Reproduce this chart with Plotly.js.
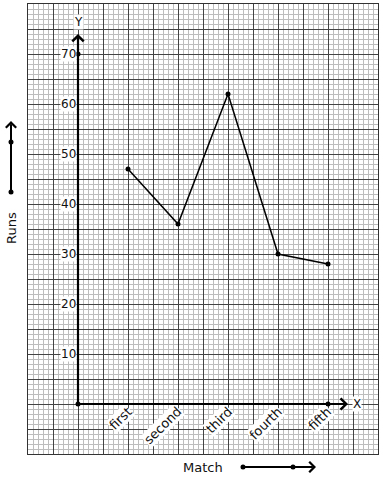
<!DOCTYPE html>
<html>
<head>
<meta charset="utf-8">
<script src="https://cdn.plot.ly/plotly-3.0.1.min.js"></script>
<style>html,body{margin:0;padding:0;background:#fff;}#chart{width:383px;height:480px;}</style>
</head>
<body>
<div id="chart"></div>
<script>
// Data
const categories = ["first", "second", "third", "fourth", "fifth"];
const runs = [47, 36, 62, 30, 28];
const yTickValues = [10, 20, 30, 40, 50, 60, 70];
const yTickLabels = ["10", "20", "30", "40", "50", "60", "70"];
const xTitle = "Match";
const yTitle = "Runs";

const xIdx = categories.map((c, i) => i + 1);
const font = "DejaVu Sans, sans-serif";
const ink = "#000";
const txt = "#111";

const traces = [
  {
    x: xIdx, y: runs, type: "scatter", mode: "lines+markers",
    line: {color: ink, width: 1.5},
    marker: {color: ink, size: 5},
    hoverinfo: "skip", showlegend: false, cliponaxis: false
  },
  {
    x: [0, 0, categories.length],
    y: [0, yTickValues[yTickValues.length - 1], 0],
    type: "scatter", mode: "markers",
    marker: {color: ink, size: 5},
    hoverinfo: "skip", showlegend: false, cliponaxis: false
  }
];

const annotations = [];
// y tick labels
yTickValues.forEach((v, i) => {
  annotations.push({
    x: 0, y: v, xref: "x", yref: "y", text: yTickLabels[i],
    showarrow: false, xanchor: "right", yanchor: "middle", xshift: -1,
    bgcolor: "#fff", borderpad: 0,
    font: {family: font, size: 12, color: txt}
  });
});
// x category labels
categories.forEach((c, i) => {
  annotations.push({
    x: xIdx[i], y: 0, xref: "x", yref: "y", text: c,
    showarrow: false, xanchor: "right", yanchor: "top", textangle: -45,
    xshift: 8, yshift: 1,
    bgcolor: "#fff", borderpad: 0,
    font: {family: font, size: 13, color: txt}
  });
});
// axis arrows
annotations.push({
  x: 0, y: 74, ax: 0, ay: 0, xref: "x", yref: "y", axref: "x", ayref: "y",
  showarrow: true, arrowhead: 4, arrowsize: 1, arrowwidth: 2.2, arrowcolor: ink, text: ""
});
annotations.push({
  x: 5.4, y: 0, ax: 0, ay: 0, xref: "x", yref: "y", axref: "x", ayref: "y",
  showarrow: true, arrowhead: 4, arrowsize: 1, arrowwidth: 2.2, arrowcolor: ink, text: ""
});
annotations.push({
  x: 0, y: 76.5, xref: "x", yref: "y", text: "Y", showarrow: false,
  xanchor: "center", yanchor: "middle",
  bgcolor: "#fff", borderpad: 0, font: {family: font, size: 12, color: txt}
});
annotations.push({
  x: 5.58, y: 0, xref: "x", yref: "y", text: "X", showarrow: false,
  xanchor: "center", yanchor: "middle",
  bgcolor: "#fff", borderpad: 0, font: {family: font, size: 12, color: txt}
});
// titles
annotations.push({
  x: (203 - 28) / 350, y: (454 - 467) / 450, xref: "paper", yref: "paper",
  xanchor: "center", yanchor: "middle",
  text: xTitle, showarrow: false, font: {family: font, size: 13, color: txt}
});
annotations.push({
  x: (11 - 28) / 350, y: (454 - 228) / 450, xref: "paper", yref: "paper",
  xanchor: "center", yanchor: "middle",
  text: yTitle, showarrow: false, textangle: -90, font: {family: font, size: 13, color: txt}
});
// title arrows
annotations.push({
  x: (316 - 28) / 350, y: (454 - 467) / 450, ax: (243 - 28) / 350, ay: (454 - 467) / 450,
  xref: "paper", yref: "paper", axref: "paper", ayref: "paper",
  showarrow: true, arrowhead: 4, arrowsize: 1, arrowwidth: 2, arrowcolor: ink, text: ""
});
annotations.push({
  x: (11 - 28) / 350, y: (454 - 121) / 450, ax: (11 - 28) / 350, ay: (454 - 192) / 450,
  xref: "paper", yref: "paper", axref: "paper", ayref: "paper",
  showarrow: true, arrowhead: 4, arrowsize: 1, arrowwidth: 2, arrowcolor: ink, text: ""
});

function dot(px, py) {
  return {
    type: "circle", xref: "paper", yref: "paper",
    xsizemode: "pixel", ysizemode: "pixel",
    xanchor: (px - 28) / 350, yanchor: (454 - py) / 450,
    x0: -2.5, x1: 2.5, y0: -2.5, y1: 2.5,
    fillcolor: ink, line: {width: 0}
  };
}
const shapes = [dot(243, 467), dot(293, 467), dot(11, 192), dot(11, 142)];

const axisCommon = {
  showticklabels: false, ticks: "", zeroline: false,
  showline: true, mirror: true, linecolor: "#333", linewidth: 1,
  showgrid: true, gridcolor: "#444", gridwidth: 1,
  fixedrange: true
};

const layout = {
  width: 383, height: 480,
  margin: {l: 28, r: 5, t: 4, b: 26, pad: 0},
  paper_bgcolor: "#fff", plot_bgcolor: "#fff",
  showlegend: false,
  xaxis: Object.assign({}, axisCommon, {
    range: [-1, 6], tick0: -1, dtick: 0.5,
    minor: {tick0: -1, dtick: 0.1, showgrid: true, gridcolor: "#bdbdbd", gridwidth: 1, ticks: ""}
  }),
  yaxis: Object.assign({}, axisCommon, {
    range: [-10, 80], tick0: -10, dtick: 5,
    minor: {tick0: -10, dtick: 1, showgrid: true, gridcolor: "#bdbdbd", gridwidth: 1, ticks: ""}
  }),
  annotations: annotations,
  shapes: shapes
};

Plotly.newPlot("chart", traces, layout, {staticPlot: true, displayModeBar: false});
</script>
</body>
</html>
